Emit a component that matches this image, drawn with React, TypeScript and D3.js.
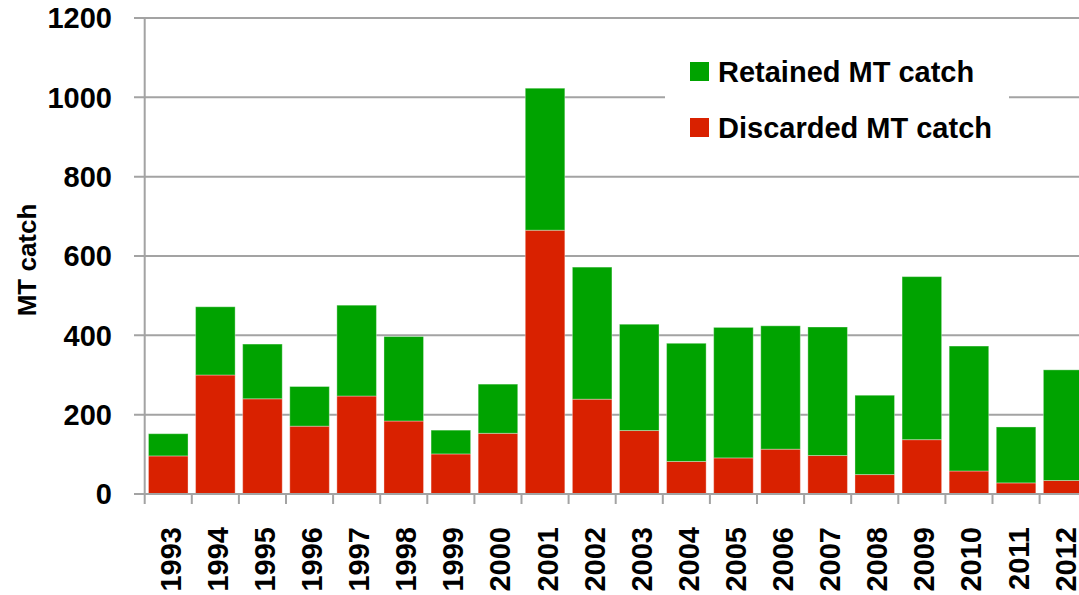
import { useEffect } from "react";
import * as d3 from "d3";

const years = ["1993", "1994", "1995", "1996", "1997", "1998", "1999", "2000", "2001", "2002",
  "2003", "2004", "2005", "2006", "2007", "2008", "2009", "2010", "2011", "2012"];
const discarded = [96, 300, 240, 171, 247, 184, 101, 153, 665, 239, 160, 82, 91, 113, 97, 49, 137, 58, 28, 34];
const retained = [56, 172, 138, 100, 229, 213, 60, 124, 358, 333, 268, 298, 329, 311, 324, 200, 411, 315, 141, 279];
const yTicks = [0, 200, 400, 600, 800, 1000, 1200];
const seriesNames = ["Retained MT catch", "Discarded MT catch"];

const GREEN = "#00a300";
const RED = "#d92100";
const GRID = "#a3a3a3";
const FONT = "'Liberation Sans', Arial, sans-serif";

const W = 1079;
const H = 595;
const plot = { left: 144.7, top: 18, bottom: 494, step: 47.1 };

export default function App() {
  useEffect(() => {
    document.body.style.margin = "0";
  }, []);

  const x = d3.scaleBand<string>()
    .domain(years)
    .range([plot.left, plot.left + plot.step * years.length])
    .padding(0);
  const y = d3.scaleLinear().domain([0, 1200]).range([plot.bottom, plot.top]);

  const rows = years.map((yr, i) => ({ year: yr, discarded: discarded[i], retained: retained[i] }));
  const stacked = d3.stack<{ year: string; discarded: number; retained: number }>()
    .keys(["discarded", "retained"])(rows);

  const bw = x.bandwidth();
  const barPad = bw * 0.08;

  // legend box (white, hides gridline)
  const legend = { x: 665, y: 48, w: 344, h: 106 };

  return (
    <svg width={W} height={H} style={{ display: "block", background: "#fff" }}>
      {/* gridlines */}
      {yTicks.map((t) => (
        <g key={t}>
          <line x1={134} x2={W} y1={y(t)} y2={y(t)} stroke={GRID} strokeWidth={2} />
          <text x={112} y={y(t)} dy="0.36em" textAnchor="end" fontFamily={FONT}
            fontWeight="bold" fontSize={29} fill="#000">{t}</text>
        </g>
      ))}

      {/* bars */}
      {stacked.map((s) => (
        <g key={s.key} fill={s.key === "discarded" ? RED : GREEN}>
          {s.map((d) => (
            <rect key={d.data.year}
              x={(x(d.data.year) ?? 0) + barPad}
              width={bw - 2 * barPad}
              y={y(d[1])}
              height={y(d[0]) - y(d[1])}
              stroke="rgba(255,255,255,0.35)" strokeWidth={1} />
          ))}
        </g>
      ))}

      {/* axes */}
      <line x1={plot.left} x2={plot.left} y1={plot.top} y2={plot.bottom + 10} stroke={GRID} strokeWidth={2} />
      <line x1={134} x2={W} y1={plot.bottom} y2={plot.bottom} stroke={GRID} strokeWidth={2} />
      {years.map((yr) => (
        <line key={"t" + yr} x1={(x(yr) ?? 0) + bw} x2={(x(yr) ?? 0) + bw}
          y1={plot.bottom} y2={plot.bottom + 10} stroke={GRID} strokeWidth={2} />
      ))}
      {years.map((yr) => (
        <text key={"l" + yr}
          transform={`translate(${(x(yr) ?? 0) + bw / 2 + 2},527) rotate(-90)`}
          dy="0.36em" textAnchor="end" fontFamily={FONT} fontWeight="bold" fontSize={29}
          fill="#000">{yr}</text>
      ))}

      {/* y label */}
      <text transform="translate(27,260) rotate(-90)" dy="0.36em" textAnchor="middle"
        fontFamily={FONT} fontWeight="bold" fontSize={26} fill="#000">MT catch</text>

      {/* legend */}
      <rect x={legend.x} y={legend.y} width={legend.w} height={legend.h} fill="#fff" />
      {seriesNames.map((name, i) => (
        <g key={name} transform={`translate(690,${62 + i * 56})`}>
          <rect width={19} height={19} fill={i === 0 ? GREEN : RED} />
          <text x={28} y={9.5} dy="0.36em" fontFamily={FONT} fontWeight="bold" fontSize={29}
            fill="#000">{name}</text>
        </g>
      ))}
    </svg>
  );
}
